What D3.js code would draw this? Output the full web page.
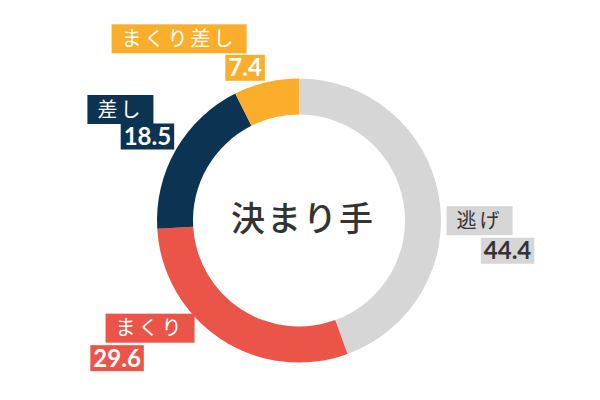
<!DOCTYPE html>
<html>
<head>
<meta charset="utf-8">
<script src="https://cdn.jsdelivr.net/npm/d3@7"></script>
<style>
  html, body { margin: 0; padding: 0; background: #fff; }
  svg { display: block; }
</style>
</head>
<body>
<svg id="chart" width="600" height="400"></svg>
<script>
const categories = ["逃げ", "まくり", "差し", "まくり差し"];
const values = [44.4, 29.6, 18.5, 7.4];
const colors = ["#d6d6d6", "#eb5449", "#0c3352", "#fbae2b"];
const textColors = ["#333333", "#ffffff", "#ffffff", "#ffffff"];
const centerTitle = "決まり手";

// label nudges from the arc's outer mid point: [nameDx, nameDy, valueDx, valueDy]
const labelNudge = [
  [23, 28, 51, 58],
  [-61, -26, -94, 4],
  [-40, -31, -13, -4],
  [-83, -26, -17, 3]
];

const svg = d3.select("#chart");
const cx = 299, cy = 220.5;
const outerR = 142, innerR = 106;

const data = categories.map((c, i) => ({ name: c, value: values[i], i: i }));

const pie = d3.pie()
  .value(d => d.value)
  .sort(null);

const arc = d3.arc()
  .innerRadius(innerR)
  .outerRadius(outerR);

const labelArc = d3.arc()
  .innerRadius(160)
  .outerRadius(160);

const arcs = pie(data);

const g = svg.append("g").attr("transform", `translate(${cx},${cy})`);

g.selectAll("path.slice")
  .data(arcs)
  .enter()
  .append("path")
  .attr("class", "slice")
  .attr("d", arc)
  .attr("fill", d => colors[d.data.i]);

g.append("text")
  .attr("x", 4)
  .attr("y", 10)
  .attr("text-anchor", "middle")
  .style("font-family", "'Noto Sans CJK JP', sans-serif")
  .style("font-size", "34px")
  .style("font-weight", "500")
  .style("letter-spacing", "2px")
  .attr("fill", "#333")
  .text(centerTitle);

function boxLabel(parent, x, y, text, opts) {
  const lg = parent.append("g");
  const rect = lg.append("rect").attr("fill", opts.bg);
  const t = lg.append("text")
    .attr("x", x)
    .attr("y", y + opts.fs * opts.base)
    .attr("text-anchor", "middle")
    .style("font-family", opts.font)
    .style("font-size", opts.fs + "px")
    .style("font-weight", opts.weight)
    .style("letter-spacing", opts.ls + "px")
    .attr("fill", opts.color)
    .text(text);
  const w = t.node().getComputedTextLength();
  rect.attr("x", x - w / 2 - opts.padX)
    .attr("y", y - opts.h / 2)
    .attr("width", w + opts.padX * 2)
    .attr("height", opts.h);
}

arcs.forEach(d => {
  const [ax, ay] = labelArc.centroid(d);
  const n = labelNudge[d.data.i];
  boxLabel(g, ax + n[0], ay + n[1], d.data.name, {
    bg: colors[d.data.i], color: textColors[d.data.i],
    font: "'Noto Sans CJK JP', sans-serif", fs: 20, weight: 400, ls: 3,
    base: 0.36, padX: 10, h: 29
  });
  boxLabel(g, ax + n[2], ay + n[3], d.data.value.toFixed(1), {
    bg: colors[d.data.i], color: textColors[d.data.i],
    font: "Lato, sans-serif", fs: 24, weight: 700, ls: 0,
    base: 0.36, padX: 3, h: 26
  });
});
</script>
</body>
</html>
